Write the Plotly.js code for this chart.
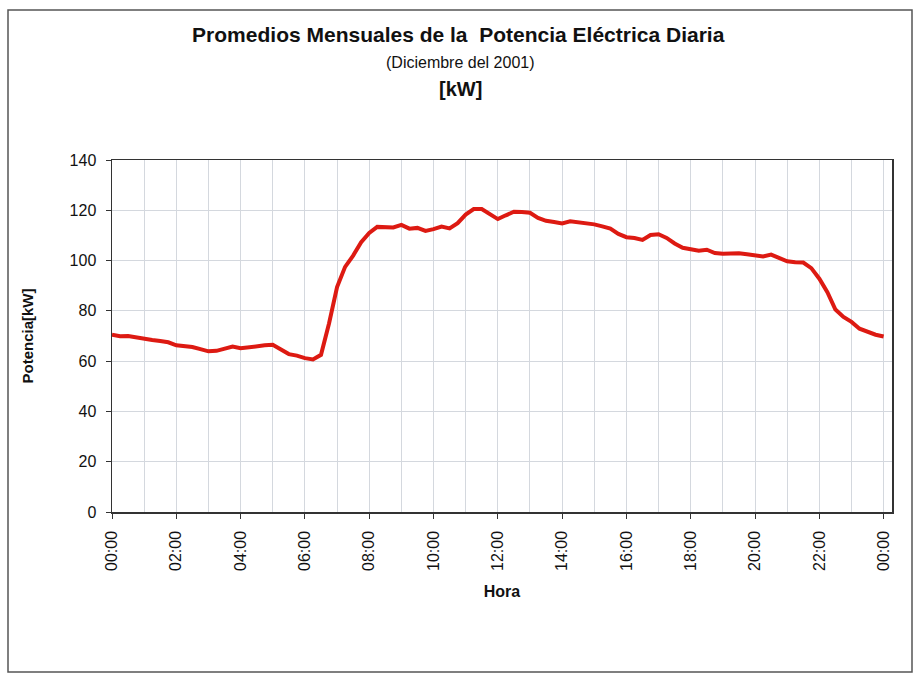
<!DOCTYPE html>
<html>
<head>
<meta charset="utf-8">
<script src="https://cdn.plot.ly/plotly-3.0.1.min.js"></script>
<style>
html,body{margin:0;padding:0;background:#fff;}
#chart{width:922px;height:675px;}
</style>
</head>
<body>
<div id="chart"></div>
<script>
// Time of day (15-minute averages)
const times = [
"00:00","00:15","00:30","00:45","01:00","01:15","01:30","01:45",
"02:00","02:15","02:30","02:45","03:00","03:15","03:30","03:45",
"04:00","04:15","04:30","04:45","05:00","05:15","05:30","05:45",
"06:00","06:15","06:30","06:45","07:00","07:15","07:30","07:45",
"08:00","08:15","08:30","08:45","09:00","09:15","09:30","09:45",
"10:00","10:15","10:30","10:45","11:00","11:15","11:30","11:45",
"12:00","12:15","12:30","12:45","13:00","13:15","13:30","13:45",
"14:00","14:15","14:30","14:45","15:00","15:15","15:30","15:45",
"16:00","16:15","16:30","16:45","17:00","17:15","17:30","17:45",
"18:00","18:15","18:30","18:45","19:00","19:15","19:30","19:45",
"20:00","20:15","20:30","20:45","21:00","21:15","21:30","21:45",
"22:00","22:15","22:30","22:45","23:00","23:15","23:30","23:45",
"24:00"];

// Average power [kW]
const potencia = [
70.5,69.9,70.0,69.5,68.6,68.4,68.0,67.5,
66.3,66.0,65.6,64.8,63.9,64.1,65.0,65.8,
65.1,65.5,66.2,66.3,66.5,64.5,62.8,62.2,
61.2,60.7,62.5,75.0,89.5,97.5,102.0,107.3,
111.0,113.4,113.4,113.2,114.2,112.7,113.0,111.8,
112.5,113.5,112.8,114.9,118.3,120.5,120.5,118.3,
116.5,118.0,119.4,119.3,119.0,117.0,115.8,115.3,
114.8,115.6,115.2,114.5,114.4,113.6,112.7,110.6,
109.3,109.0,108.2,110.2,110.5,109.0,106.8,105.1,
104.5,103.9,104.3,103.0,102.7,102.7,102.9,102.5,
102.1,101.6,102.4,101.2,99.7,99.3,99.2,97.0,
92.8,87.4,80.5,77.6,75.6,72.9,71.5,70.5,
69.8];

// Axis tick labels
const tickHours = [0,2,4,6,8,10,12,14,16,18,20,22,24];
const tickLabels = ["00:00","02:00","04:00","06:00","08:00","10:00","12:00","14:00","16:00","18:00","20:00","22:00","00:00"];

const hours = times.map(t => { const p = t.split(":"); return (+p[0]) + (+p[1])/60; });

const trace = {
  x: hours, y: potencia, type: "scatter", mode: "lines",
  line: {color: "#dd1a12", width: 4, shape: "linear"},
  hoverinfo: "x+y"
};

const fontFam = "Liberation Sans, Arial, sans-serif";
const gridCol = "#d4d8de";

const layout = {
  width: 922, height: 675,
  margin: {l: 112, r: 30, t: 160, b: 163},
  paper_bgcolor: "#ffffff", plot_bgcolor: "#ffffff",
  showlegend: false,
  font: {family: fontFam, color: "#111"},
  title: {
    text: "Promedios Mensuales de la  Potencia Eléctrica Diaria",
    font: {size: 21, family: fontFam, color: "#111", weight: "bold"},
    xref: "container", x: 0.497, xanchor: "center",
    yref: "container", y: 1 - 35/675, yanchor: "middle"
  },
  xaxis: {
    range: [0, 24.26],
    tickmode: "array", tickvals: tickHours, ticktext: tickLabels,
    tickangle: -90, tickfont: {size: 16, family: fontFam, color: "#111"},
    ticks: "outside", ticklen: 5, tickcolor: "#333", ticklabelstandoff: 6,
    showgrid: true, gridcolor: gridCol, gridwidth: 1,
    minor: {dtick: 1, tick0: 0, showgrid: true, gridcolor: gridCol, gridwidth: 1, ticks: ""},
    showline: true, linecolor: "#333", linewidth: 1.5, mirror: true,
    zeroline: false,
    title: {text: "Hora", font: {size: 16, family: fontFam, color: "#111", weight: "bold"}, standoff: 16}
  },
  yaxis: {
    range: [0, 140], dtick: 20, tick0: 0,
    tickfont: {size: 16, family: fontFam, color: "#111"},
    ticks: "outside", ticklen: 5, tickcolor: "#333", ticklabelstandoff: 6,
    showgrid: true, gridcolor: gridCol, gridwidth: 1,
    showline: true, linecolor: "#333", linewidth: 1.5, mirror: true,
    zeroline: false,
    title: {text: "Potencia[kW]", font: {size: 15, family: fontFam, color: "#111", weight: "bold"}, standoff: 32}
  },
  annotations: [
    {text: "(Diciembre del 2001)", xref: "paper", yref: "paper", x: (460-112)/780, y: (512-63)/352,
     xanchor: "center", yanchor: "middle", showarrow: false, font: {size: 16, family: fontFam, color: "#111"}},
    {text: "<b>[kW]</b>", xref: "paper", yref: "paper", x: (460-112)/780, y: (512-89)/352,
     xanchor: "center", yanchor: "middle", showarrow: false, font: {size: 20, family: fontFam, color: "#111"}}
  ],
  shapes: [
    {type: "rect", xref: "paper", yref: "paper", x0: (8-112)/780, x1: (912-112)/780, y0: (512-672)/352, y1: (512-10)/352,
     line: {color: "#555", width: 1.5}, fillcolor: "rgba(0,0,0,0)", layer: "below"}
  ]
};

Plotly.newPlot("chart", [trace], layout, {displayModeBar: false, staticPlot: true});
</script>
</body>
</html>
